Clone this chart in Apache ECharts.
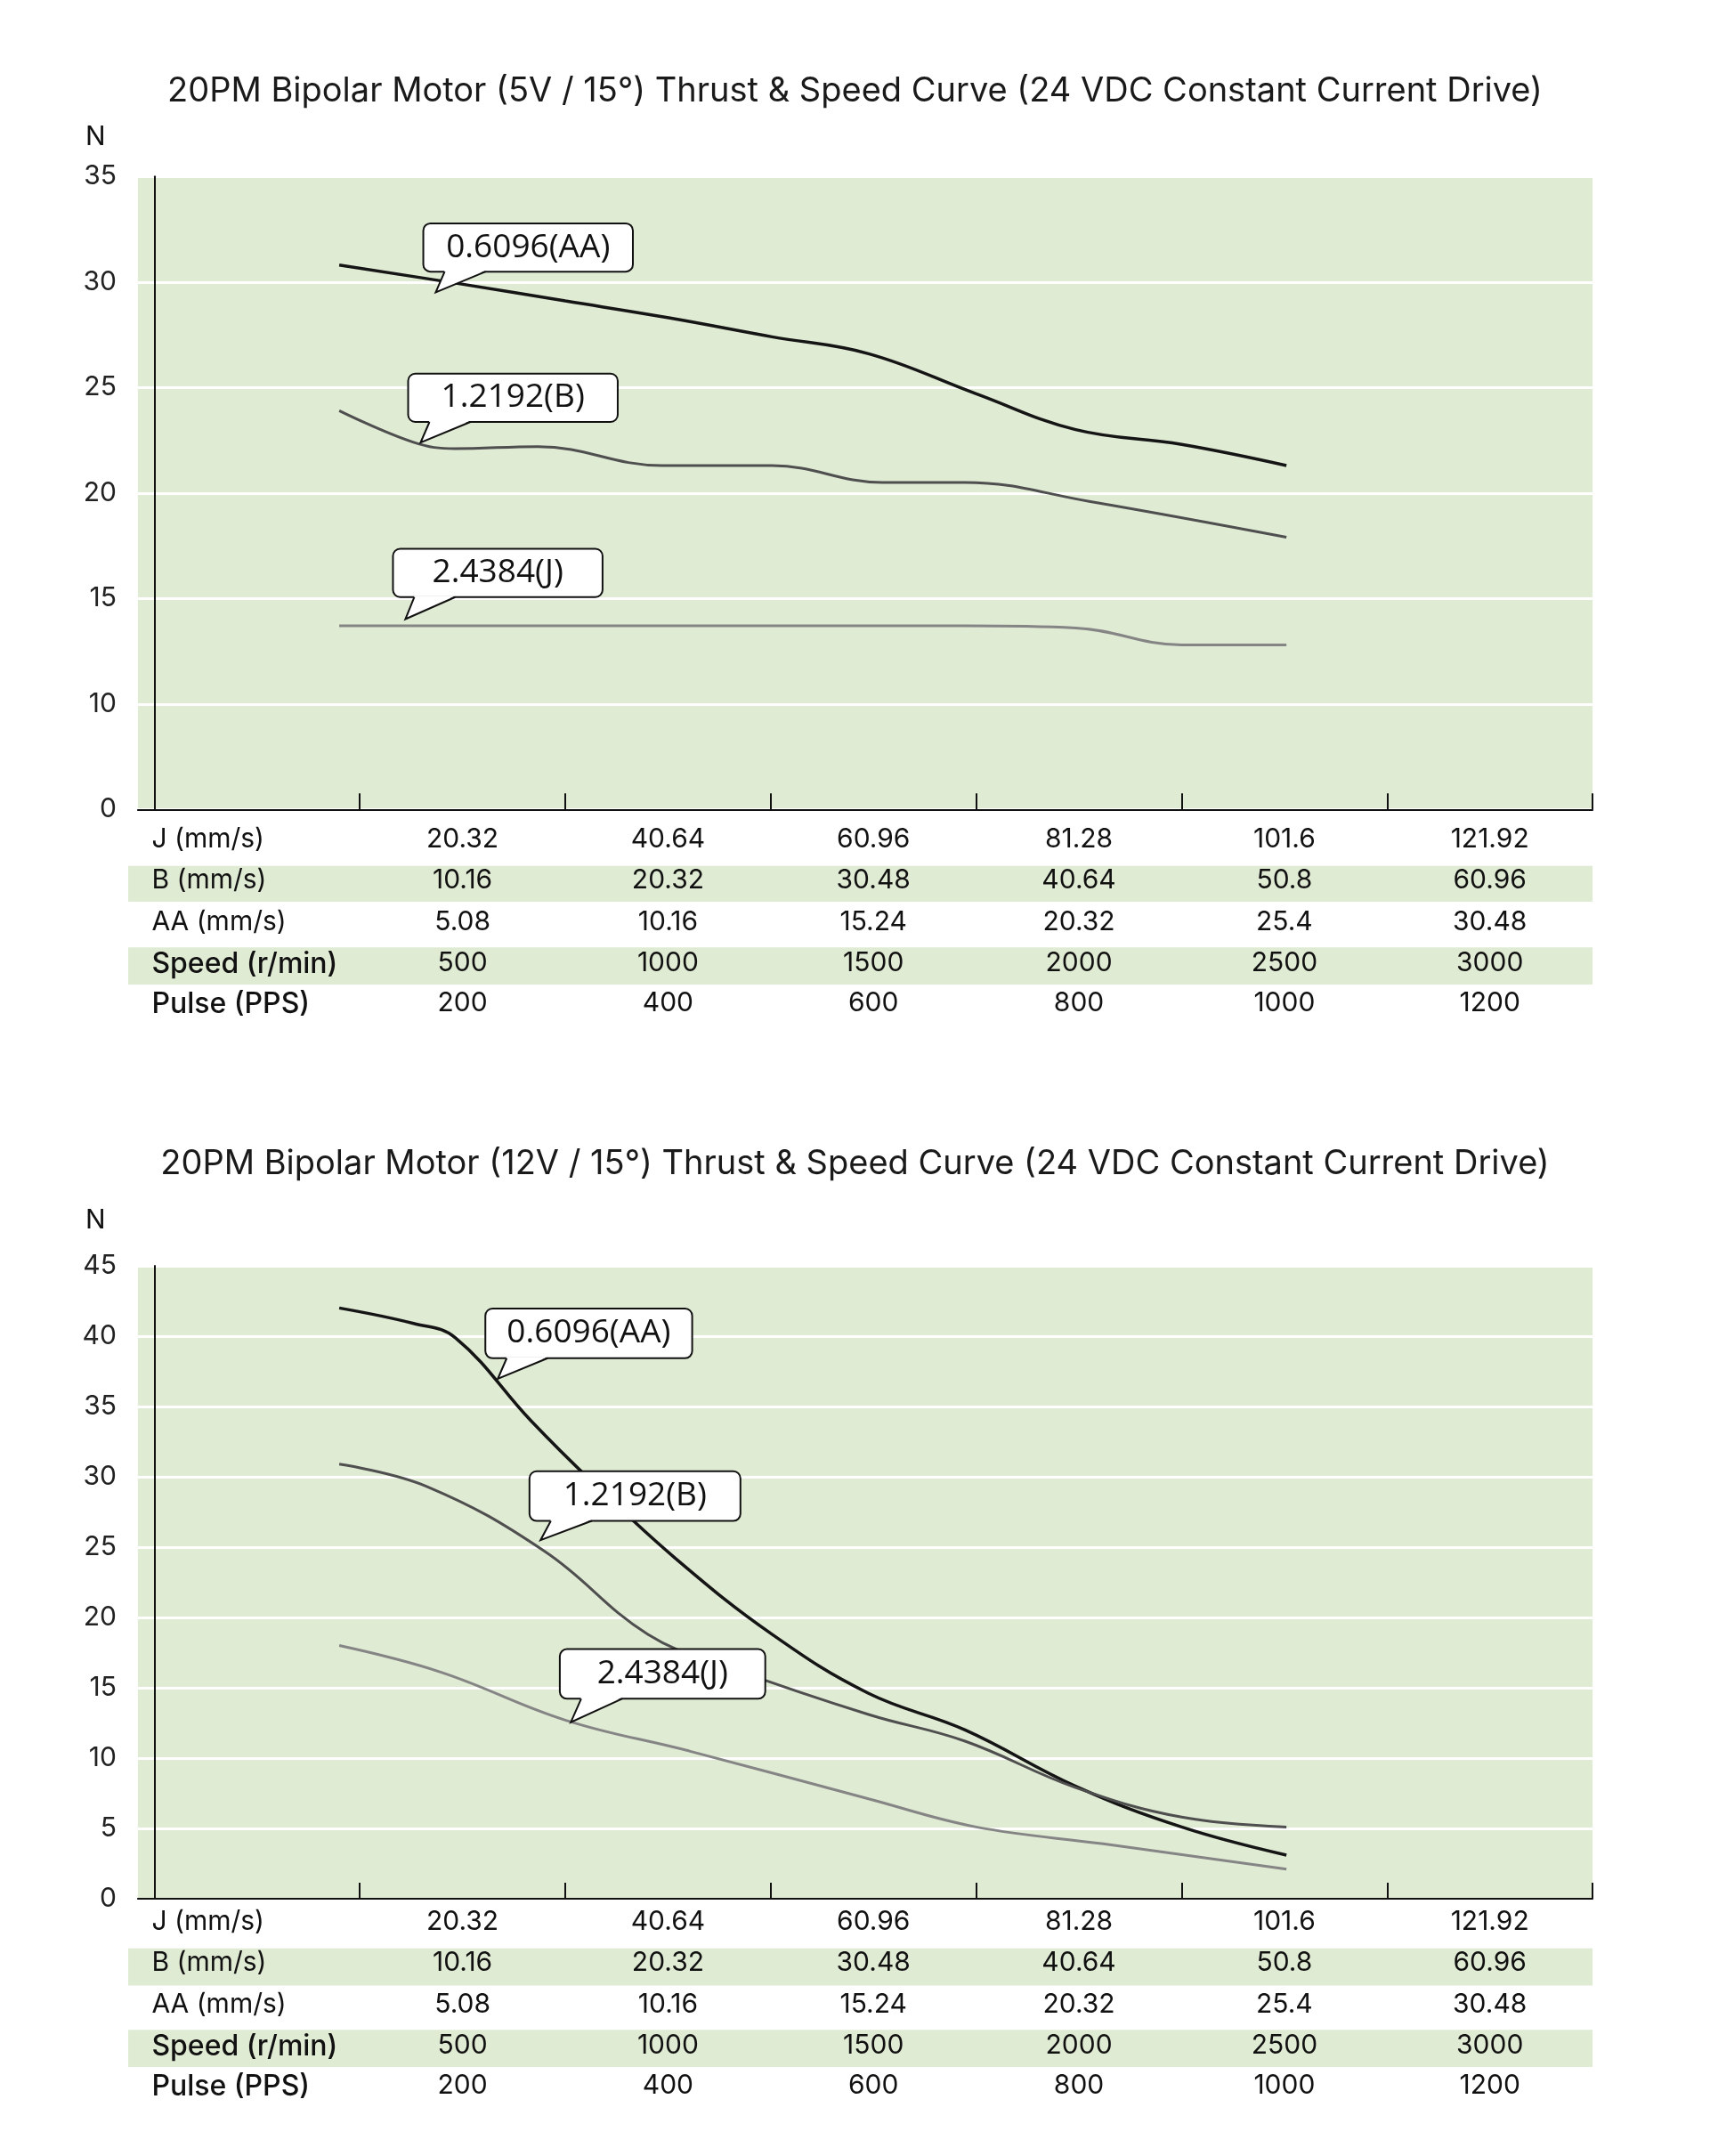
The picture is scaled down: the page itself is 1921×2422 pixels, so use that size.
<!DOCTYPE html>
<html><head><meta charset="utf-8">
<script src="https://cdn.jsdelivr.net/npm/echarts@6/dist/echarts.min.js"></script>
<style>html,body{margin:0;padding:0;background:#fff}#c{width:1921px;height:2422px}</style>
</head><body><div id="c"></div>
<script>
// ---- data ----
const titles = ['20PM Bipolar Motor (5V / 15°) Thrust & Speed Curve (24 VDC Constant Current Drive)',
                '20PM Bipolar Motor (12V / 15°) Thrust & Speed Curve (24 VDC Constant Current Drive)'];
const seriesNames = ['0.6096(AA)', '1.2192(B)', '2.4384(J)'];
// x = speed (r/min), y = thrust (N)
const top_AA = [[450,30.8],[748,29.9],[1000,29.1],[1252,28.3],[1503,27.4],[1738,26.6],[2000,24.7],[2242,23.0],[2500,22.3],[2755,21.3]];
const top_B  = [[450,23.9],[631,22.4],[732,22.1],[933,22.2],[1235,21.3],[1503,21.3],[1772,20.5],[1973,20.5],[2275,19.6],[2755,17.9]];
const top_J  = [[450,13.7],[1000,13.7],[1500,13.7],[1973,13.7],[2242,13.6],[2500,12.8],[2755,12.8]];
const bot_AA = [[450,42.0],[631,40.9],[732,39.9],[916,34.0],[1067,29.6],[1268,24.2],[1503,18.8],[1738,14.6],[1973,12.0],[2242,8.0],[2500,5.1],[2755,3.1]];
const bot_B  = [[450,30.9],[664,29.3],[950,24.7],[1201,18.8],[1403,16.4],[1738,13.1],[1973,11.2],[2242,7.9],[2500,5.8],[2755,5.1]];
const bot_J  = [[450,18.0],[698,16.1],[1000,12.7],[1302,10.5],[1738,7.1],[2000,5.1],[2309,3.9],[2755,2.1]];
const rowNames = ['J (mm/s)', 'B (mm/s)', 'AA (mm/s)', 'Speed (r/min)', 'Pulse (PPS)'];
const rowJ = ['20.32','40.64','60.96','81.28','101.6','121.92'];
const rowB = ['10.16','20.32','30.48','40.64','50.8','60.96'];
const rowAA = ['5.08','10.16','15.24','20.32','25.4','30.48'];
const rowSpeed = ['500','1000','1500','2000','2500','3000'];
const rowPulse = ['200','400','600','800','1000','1200'];
const speedTicks = [500,1000,1500,2000,2500,3000,3500];
const yTop = {min:5, max:35, zeroLabelAt:5};
const yBot = {min:0, max:45};

// ---- layout ----
const S = 1.549;
const FONT = 'Inter, "Noto Sans", sans-serif';
const rows = [rowJ,rowB,rowAA,rowSpeed,rowPulse];
const colCenters = [750,1250,1750,2250,2750,3250];
const charts = [
  {top:128, bottom:587, rowsY:[610,640,670,700,729], bands:[[628,654],[687,714]], titleY:68, titleX:637, nY:100, y:yTop, data:[top_AA,top_B,top_J],
   boxes:[[307,162,459,197,316,212],[296,271,448,306,305,321],[285,398,437,433,294,449]]},
  {top:918, bottom:1377, rowsY:[1395,1425,1455,1485,1514], bands:[[1413,1440],[1472,1499]], titleY:846, titleX:624, nY:886, y:yBot, data:[bot_AA,bot_B,bot_J],
   boxes:[[352,949,502,985,361,1000],[384,1067,537,1103,392,1117],[406,1196,555,1232,414,1249]]}
];
const colors = ['#151515','#4f4f4f','#858585'];
const grids=[], xAxes=[], yAxes=[], series=[], graphic=[];
charts.forEach((c,ci)=>{
  const gTop=c.top*S, gBot=c.bottom*S;
  grids.push({left:100*S, right:1921-1155*S, top:gTop, height:gBot-gTop, show:true, backgroundColor:'#e0ebd4', borderWidth:0});
  const xi = xAxes.length;
  xAxes.push({type:'value', gridIndex:ci, min:-40, max:3500, axisLine:{show:true,lineStyle:{color:'#111',width:2}},
    axisTick:{show:true, inside:true, length:18, customValues:speedTicks, lineStyle:{color:'#111',width:2}},
    axisLabel:{show:false}, splitLine:{show:false}});
  rows.forEach((r,ri)=>{
    const fs=30;
    xAxes.push({type:'value', gridIndex:ci, min:-40, max:3500, position:'bottom', offset:c.rowsY[ri]*S-gBot-fs/2-2,
      axisLine:{show:false}, axisTick:{show:false}, splitLine:{show:false},
      axisLabel:{show:true, margin:0, customValues:colCenters, fontSize:fs, color:'#111', fontFamily:FONT,
        formatter:v=>r[colCenters.indexOf(v)] ?? ''}});
    graphic.push({type:'text', left:110*S, top:c.rowsY[ri]*S-fs/2-2, z:10,
      style:{text:rowNames[ri], fontSize:ri>=3?32:30, fontWeight:ri>=3?500:'normal', fill:'#111', fontFamily:FONT}});
  });
  c.bands.forEach(b=>graphic.push({type:'rect', z:-1, shape:{x:93*S,y:b[0]*S,width:(1155-93)*S,height:(b[1]-b[0])*S}, style:{fill:'#e0ebd4'}}));
  yAxes.push({type:'value', gridIndex:ci, min:c.y.min, max:c.y.max, interval:5,
    axisLine:{show:true,lineStyle:{color:'#111',width:2}}, axisTick:{show:false},
    splitLine:{show:true,lineStyle:{color:'#fff',width:3}},
    axisLabel:{fontSize:30, color:'#222', fontFamily:FONT, margin:24,
      formatter:v=> (c.y.zeroLabelAt!==undefined && v===c.y.zeroLabelAt)?'0':String(v)}});
  c.data.forEach((d,si)=>series.push({type:'line', name:seriesNames[si], xAxisIndex:xi, yAxisIndex:ci, data:d, smooth:0.4,
    symbol:'none', lineStyle:{color:colors[si], width:si===0?3.5:3}, z:3}));
  graphic.push({type:'text', left:'center', top:c.titleY*S-22, style:{text:titles[ci], fontSize:38, fill:'#1a1a1a', fontFamily:FONT}});
  graphic.push({type:'text', left:62*S, top:c.nY*S-16, style:{text:'N', fontSize:30, fill:'#111', fontFamily:FONT}});
  c.boxes.forEach((b,bi)=>{
    const [l,t,r,btm,tx,ty]=b.map(v=>v*S);
    graphic.push({type:'rect', z:20, shape:{x:l,y:t,width:r-l,height:btm-t,r:8}, style:{fill:'#fff',stroke:'#111',lineWidth:2}});
    graphic.push({type:'polygon', z:21, shape:{points:[[l+24,btm-1.5],[l+70,btm-1.5],[tx,ty]]}, style:{fill:'#fff'}});
    graphic.push({type:'polyline', z:22, shape:{points:[[l+24,btm],[tx,ty],[l+70,btm]]}, style:{stroke:'#111',lineWidth:2,fill:null}});
    graphic.push({type:'text', z:23, x:(l+r)/2, y:(t+btm)/2, style:{text:seriesNames[bi], fontSize:37, fill:'#111', fontFamily:'"Open Sans", sans-serif', align:'center', verticalAlign:'middle'}});
  });
});
const chart = echarts.init(document.getElementById('c'));
chart.setOption({backgroundColor:'#fff', animation:false, grid:grids, xAxis:xAxes, yAxis:yAxes, series, graphic});
</script></body></html>
